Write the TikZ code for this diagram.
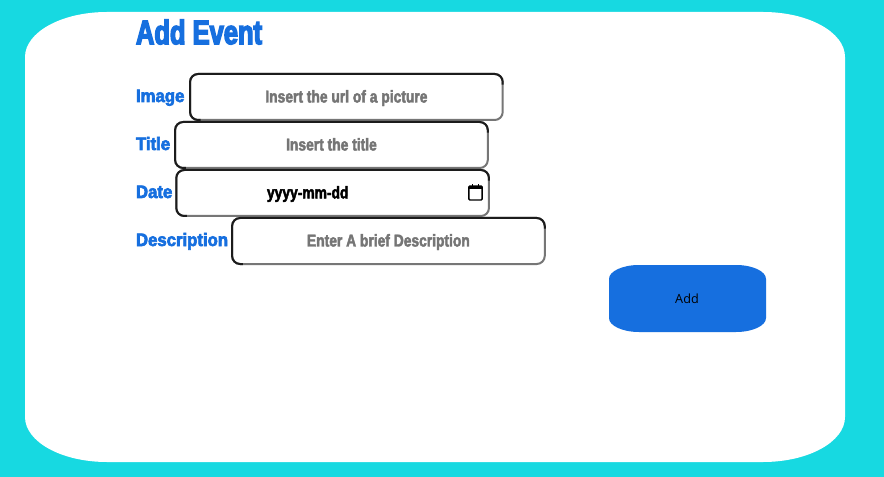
\documentclass[tikz,border=0pt]{standalone}
\usepackage{fontspec}
\usepackage{tikz}
\usetikzlibrary{positioning}
\setmainfont{Open Sans}
\newfontfamily\heavyfont[FakeStretch=0.75,FakeBold=4]{Liberation Sans Bold}
\newfontfamily\labelfont[FakeStretch=0.93,FakeBold=3.5]{Liberation Sans Bold}
\newfontfamily\holdfont[FakeStretch=0.81,FakeBold=2.5]{Liberation Sans Bold}
\definecolor{pagecyan}{HTML}{17D9E1}
\definecolor{formblue}{HTML}{166FDF}
\definecolor{edgedark}{HTML}{1C1C1C}
\definecolor{edgegray}{HTML}{767676}
\definecolor{holdgray}{HTML}{757575}

\begin{document}
\begin{tikzpicture}[x=0.75pt,y=-0.75pt]

      \tikzstyle{every node}=[inner sep=0pt,outer sep=0pt]
      \tikzstyle{formlabel}=[anchor=base west,text=formblue,font=\labelfont\fontsize{13.5}{16}\selectfont]
      \tikzstyle{field}=[shape=rectangle,draw=edgegray,line width=1.5pt,rounded corners=6pt,fill=white,minimum width=234.5pt,minimum height=34.5pt,yshift=3.75pt,text height=9.2pt,text depth=1pt,text=holdgray,font=\holdfont\fontsize{12.8}{14}\selectfont]
      \tikzstyle{fieldtop}=[draw=edgedark,line width=1.5pt,rounded corners=6pt]

      \useasboundingbox (0,0) rectangle (884,477);
      \fill[pagecyan] (0,0) rectangle (884,477);
      % white panel with elliptical corners
      \fill[white] (107,12) -- (763,12) arc[start angle=270,end angle=360,x radius=82,y radius=45]
        -- (845,417) arc[start angle=0,end angle=90,x radius=82,y radius=45]
        -- (107,462) arc[start angle=90,end angle=180,x radius=82,y radius=45]
        -- (25,57) arc[start angle=180,end angle=270,x radius=82,y radius=45] -- cycle;

      \node[anchor=west,text=formblue,font=\heavyfont\fontsize{25.5}{30}\selectfont] (heading) at (136,32) {Add Event};

      \node[formlabel] (imagelabel) at (136,102) {Image};
      \node[field,right=4.25pt of imagelabel.base east] (imagebox) {Insert the url of a picture};

      \node[formlabel] (titlelabel) at (136,150) {Title};
      \node[field,right=3.75pt of titlelabel.base east] (titlebox) {Insert the title};

      \node[formlabel] (datelabel) at (136,198) {Date};
      \node[field,right=3pt of datelabel.base east] (datebox) {};

      \node[formlabel] (desclabel) at (136,246) {Description};
      \node[field,right=3pt of desclabel.base east] (descbox) {Enter A brief Description};

      \foreach \n in {imagebox,titlebox,datebox,descbox}
        \draw[fieldtop] ([xshift=8pt]\n.south west) -- (\n.south west) -- (\n.north west) -- (\n.north east) -- ([yshift=-8pt]\n.north east);

      \node[anchor=west,text=black,font=\holdfont\fontsize{12.8}{14}\selectfont] (datetext) at (267,194) {yyyy-mm-dd};

      % calendar glyph
      \node[draw=black,line width=1.1pt,rounded corners=0.8pt,minimum width=10pt,minimum height=10.5pt] (calendar) at (475.5,193) {};
      \fill[black] (calendar.north west) rectangle ([yshift=-2.6pt]calendar.north east);
      \draw[black,line width=1pt] ([xshift=2.6pt]calendar.north west) -- ++(0,1.6pt);
      \draw[black,line width=1pt] ([xshift=-2.6pt]calendar.north east) -- ++(0,1.6pt);

      % add button
      \fill[formblue] (639,265) -- (736,265) arc[start angle=270,end angle=360,x radius=30,y radius=14]
        -- (766,318) arc[start angle=0,end angle=90,x radius=30,y radius=14]
        -- (639,332) arc[start angle=90,end angle=180,x radius=30,y radius=14]
        -- (609,279) arc[start angle=180,end angle=270,x radius=30,y radius=14] -- cycle;
      \node[text=black,font=\fontsize{9.5}{12}\selectfont] (addtext) at (687,299) {Add};

\end{tikzpicture}
\end{document}
